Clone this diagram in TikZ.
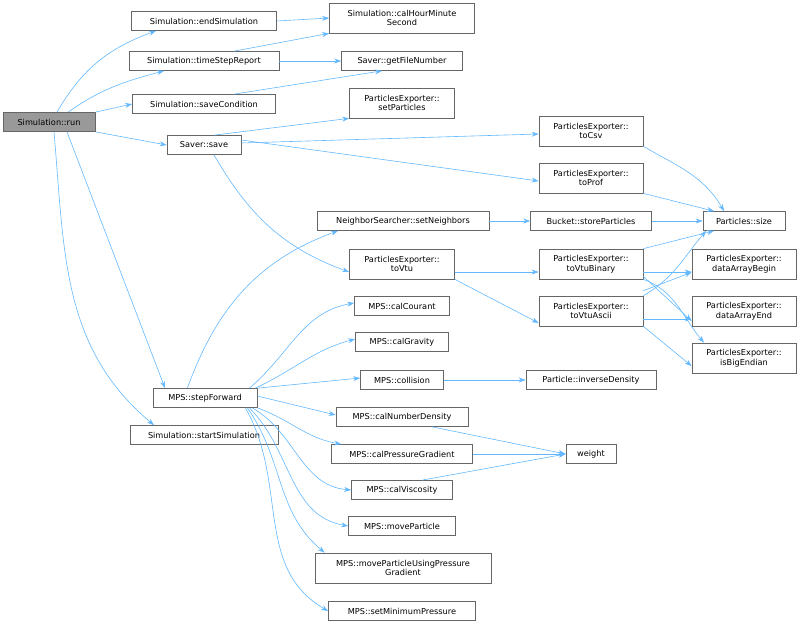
\documentclass[tikz,border=0pt]{standalone}
\usepackage{fontspec}
\setmainfont{DejaVu Sans}
\usetikzlibrary{arrows.meta}
\definecolor{edge}{HTML}{63B8FF}
\definecolor{bord}{HTML}{666666}
\begin{document}
\begin{tikzpicture}[x=1pt,y=-1pt,
  fn/.style={draw=bord,fill=white,line width=0.7pt,inner sep=0pt,font=\fontsize{8.2}{9.5}\selectfont,align=center,minimum height=19pt},
  two/.style={minimum height=30pt},
  cur/.style={fn,fill=black!40},
  e/.style={draw=edge,line width=0.6pt,-{Stealth[length=7pt,width=5pt]}}]
\useasboundingbox (0,0) rectangle (800,624);
\node[cur,minimum width=92pt] (run) at (49,122) {Simulation::run};
\node[fn,minimum width=145pt] (end) at (204,21) {Simulation::endSimulation};
\node[fn,two,minimum width=145pt] (hms) at (402,18) {Simulation::calHourMinute\\Second};
\node[fn,minimum width=150pt] (tsr) at (204,61) {Simulation::timeStepReport};
\node[fn,minimum width=121pt] (gfn) at (402,61) {Saver::getFileNumber};
\node[fn,minimum width=143pt] (sc) at (204,104) {Simulation::saveCondition};
\node[fn,two,minimum width=105pt] (sp) at (402,103) {ParticlesExporter::\\setParticles};
\node[fn,minimum width=74pt] (save) at (204,145) {Saver::save};
\node[fn,two,minimum width=104pt] (csv) at (591,131) {ParticlesExporter::\\toCsv};
\node[fn,two,minimum width=104pt] (prof) at (591,178) {ParticlesExporter::\\toProf};
\node[fn,minimum width=82pt] (size) at (744,221) {Particles::size};
\node[fn,minimum width=172pt] (nb) at (403,221) {NeighborSearcher::setNeighbors};
\node[fn,minimum width=121pt] (bk) at (591,221) {Bucket::storeParticles};
\node[fn,two,minimum width=105pt] (vtu) at (402,264) {ParticlesExporter::\\toVtu};
\node[fn,two,minimum width=104pt] (vb) at (591,264) {ParticlesExporter::\\toVtuBinary};
\node[fn,two,minimum width=104pt] (dab) at (744,264) {ParticlesExporter::\\dataArrayBegin};
\node[fn,two,minimum width=104pt] (va) at (591,311) {ParticlesExporter::\\toVtuAscii};
\node[fn,two,minimum width=104pt] (dae) at (744,311) {ParticlesExporter::\\dataArrayEnd};
\node[fn,two,minimum width=104pt] (be) at (744,358) {ParticlesExporter::\\isBigEndian};
\node[fn,minimum width=95pt] (cc) at (402,306) {MPS::calCourant};
\node[fn,minimum width=93pt] (cg) at (402,342) {MPS::calGravity};
\node[fn,minimum width=83pt] (col) at (402,380) {MPS::collision};
\node[fn,minimum width=130pt] (inv) at (591,380) {Particle::inverseDensity};
\node[fn,minimum width=104pt] (sf) at (205,398) {MPS::stepForward};
\node[fn,minimum width=148pt] (ss) at (204,435) {Simulation::startSimulation};
\node[fn,minimum width=132pt] (cnd) at (402,417) {MPS::calNumberDensity};
\node[fn,minimum width=141pt] (cpg) at (402,454) {MPS::calPressureGradient};
\node[fn,minimum width=50pt] (w) at (591,454) {weight};
\node[fn,minimum width=101pt] (cv) at (402,490) {MPS::calViscosity};
\node[fn,minimum width=107pt] (mp) at (402,526) {MPS::moveParticle};
\node[fn,two,minimum width=176pt] (mpu) at (403,568) {MPS::moveParticleUsingPressure\\Gradient};
\node[fn,minimum width=147pt] (smp) at (402,611) {MPS::setMinimumPressure};
% edges from run
\draw[e] ([xshift=8pt]run.north) to[out=60,in=200] ([xshift=-48pt]end.south);
\draw[e] ([xshift=19pt]run.north) to[out=35,in=195] ([xshift=-40pt]tsr.south);
\draw[e] (run.north east) -- (sc.west);
\draw[e] (run.south east) -- (save.west);
\draw[e] ([xshift=18pt]run.south) -- ([xshift=-40pt]sf.north);
\draw[e] ([xshift=5pt]run.south) to[out=-85,in=140] ([xshift=-50pt]ss.north);
\draw[e] (end.east) -- (hms.west);
\draw[e] ([xshift=30pt]tsr.north) -- (hms.south west);
\draw[e] (tsr.east) -- (gfn.west);
\draw[e] ([xshift=30pt]sc.north) -- ([xshift=-20pt]gfn.south);
\draw[e] ([xshift=10pt]save.north) -- (sp.south west);
\draw[e] ([yshift=2pt]save.east) -- ([yshift=-3pt]csv.west);
\draw[e] ([yshift=5pt]save.east) -- ([yshift=-3pt]prof.west);
\draw[e] ([xshift=10pt]save.south) to[out=-60,in=160] ([yshift=-8pt]vtu.west);
\draw[e] (csv.south east) to[out=-30,in=120] ([xshift=-20pt]size.north);
\draw[e] (prof.south east) -- ([xshift=-30pt]size.north);
\draw[e] ([xshift=-70pt]sf.north east) to[out=70,in=200] ([xshift=-65pt]nb.south);
\draw[e] (nb.east) -- (bk.west);
\draw[e] (bk.east) -- (size.west);
\draw[e] ([yshift=-8pt]vtu.east) -- ([yshift=-8pt]vb.west);
\draw[e] (vtu.south east) -- ([yshift=-12pt]va.west);
\draw[e] (vb.north east) -- ([xshift=-30pt]size.south);
\draw[e] ([yshift=-8pt]vb.east) -- ([yshift=-8pt]dab.west);
\draw[e] ([yshift=3pt]vb.south east) -- ([yshift=-10pt]dae.west);
\draw[e] (vb.south east) to[out=-20,in=130] ([xshift=-40pt]be.north);
\draw[e] (va.north east) to[out=30,in=230] ([xshift=-38pt]size.south);
\draw[e] ([yshift=5pt]va.north east) -- ([yshift=7pt]dab.south west);
\draw[e] ([yshift=-8pt]va.east) -- ([yshift=-8pt]dae.west);
\draw[e] (va.south east) -- ([yshift=-8pt]be.west);
\draw[e] ([xshift=-8pt]sf.north east) to[out=40,in=190] ([yshift=3pt]cc.west);
\draw[e] ([xshift=-2pt]sf.north east) to[out=25,in=195] ([yshift=3pt]cg.west);
\draw[e] (sf.north east) -- ([yshift=2pt]col.west);
\draw[e] ([yshift=2pt]sf.east) -- ([yshift=2pt]cnd.west);
\draw[e] (sf.south east) to[out=-20,in=170] ([xshift=10pt]cpg.north west);
\draw[e] ([xshift=-5pt]sf.south east) to[out=-30,in=175] (cv.west);
\draw[e] ([xshift=-8pt]sf.south east) to[out=-45,in=170] (mp.west);
\draw[e] ([xshift=-10pt]sf.south east) to[out=-55,in=140] ([xshift=10pt]mpu.north west);
\draw[e] ([xshift=-12pt]sf.south east) to[out=-60,in=150] (smp.west);
\draw[e] (col.east) -- (inv.west);
\draw[e] ([xshift=30pt]cnd.south) -- (w.west);
\draw[e] (cpg.east) -- (w.west);
\draw[e] ([xshift=20pt]cv.north) -- (w.west);
\end{tikzpicture}
\end{document}
